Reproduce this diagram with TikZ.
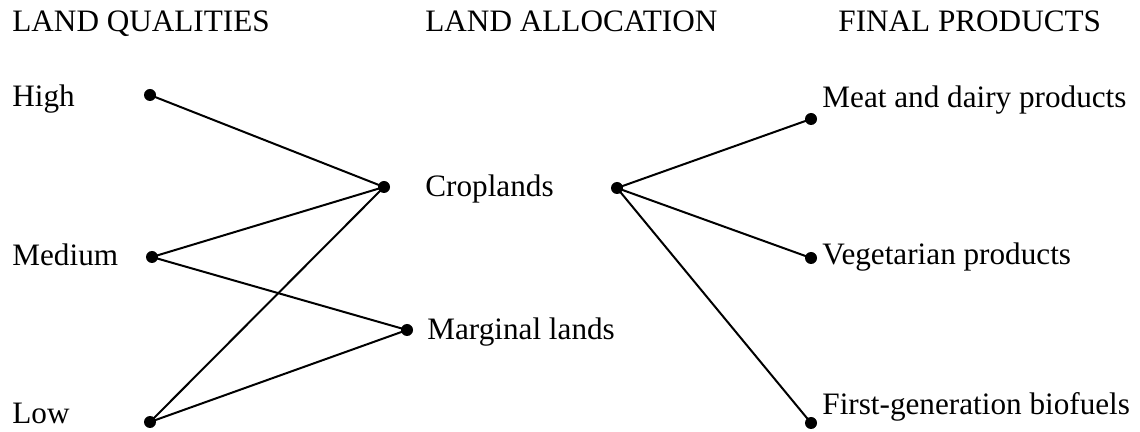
\documentclass[tikz,border=0pt]{standalone}
\usepackage{fontspec}
\setmainfont{Liberation Serif}
\begin{document}
\begin{tikzpicture}[x=0.5pt,y=-0.5pt,
  lbl/.style={anchor=base west,inner sep=0pt,font=\fontsize{15.6}{18}\selectfont},
  dot/.style={circle,fill=black,inner sep=0pt,minimum size=6pt},
  link/.style={line width=1pt}]
\useasboundingbox (0,0) rectangle (1140,432);
% headings
\node[lbl] (hq) at (12,32) {LAND QUALITIES};
\node[lbl] (ha) at (425,32) {LAND ALLOCATION};
\node[lbl] (hp) at (838,32) {FINAL PRODUCTS};
% labels
\node[lbl] (thigh) at (12,107) {High};
\node[lbl] (tmed) at (12,266) {Medium};
\node[lbl] (tlow) at (12,423) {Low};
\node[lbl] (tcrop) at (425,197) {Croplands};
\node[lbl] (tmarg) at (427,340) {Marginal lands};
\node[lbl] (tmeat) at (822,108) {Meat and dairy products};
\node[lbl] (tveg) at (822,265) {Vegetarian products};
\node[lbl] (tbio) at (822,415) {First-generation biofuels};
% dots
\node[dot] (high) at (150,95) {};
\node[dot] (med) at (152,257) {};
\node[dot] (low) at (150,422) {};
\node[dot] (cropL) at (384,187) {};
\node[dot] (marg) at (407,330) {};
\node[dot] (cropR) at (617,188) {};
\node[dot] (meat) at (811,119) {};
\node[dot] (veg) at (811,258) {};
\node[dot] (bio) at (811,423) {};
% links
\draw[link] (high.center) -- (cropL.center);
\draw[link] (med.center) -- (cropL.center);
\draw[link] (med.center) -- (marg.center);
\draw[link] (low.center) -- (cropL.center);
\draw[link] (low.center) -- (marg.center);
\draw[link] (cropR.center) -- (meat.center);
\draw[link] (cropR.center) -- (veg.center);
\draw[link] (cropR.center) -- (bio.center);
\end{tikzpicture}
\end{document}
